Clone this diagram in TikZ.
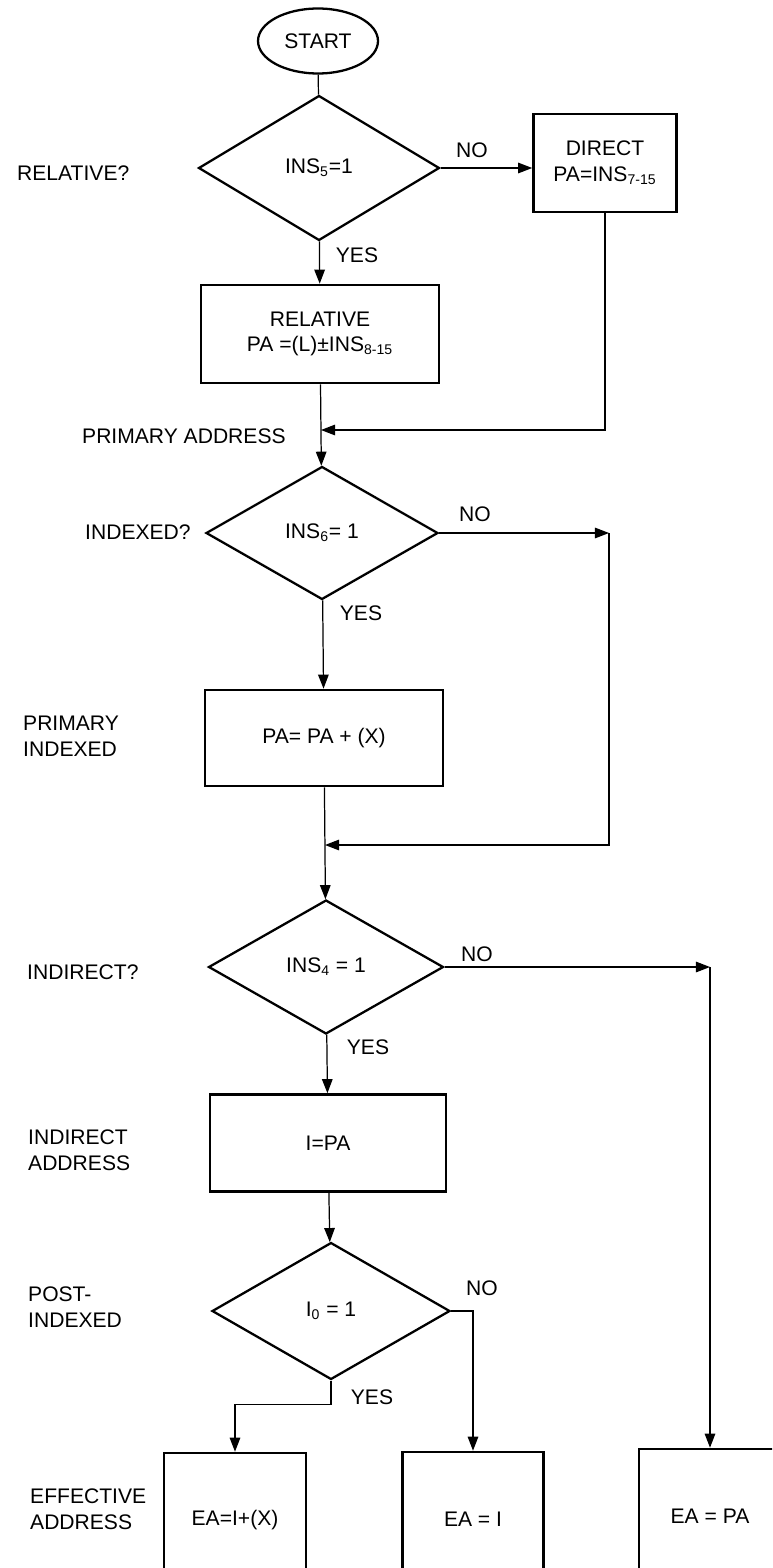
\documentclass[tikz,border=0pt]{standalone}
\usepackage{fontspec}
\setmainfont{Liberation Sans}
\usetikzlibrary{shapes.geometric,arrows.meta}

\begin{document}
\begin{tikzpicture}[x=0.02cm, y=-0.02cm,
    font=\fontsize{12}{14.5}\selectfont,
    >={Triangle[length=8pt,width=6pt]},
    decision/.style={diamond, draw, line width=1.3pt, inner sep=0pt, aspect=1.7},
    stepbox/.style={rectangle, draw, line width=1.5pt, align=center},
    link/.style={->, line width=0.7pt},
    side/.style={anchor=west, align=left}]

    \useasboundingbox (0,0) rectangle (772,1568);
    \clip (0,0) rectangle (772,1568);

    % main column
    \node [ellipse, draw, line width=1.3pt, minimum width=2.4cm, minimum height=1.3cm] (start) at (318,41) {START};
    \node [decision, minimum width=4.82cm, minimum height=2.9cm] (ins5) at (319,168) {INS\textsubscript{5}=1};
    \node [stepbox, minimum width=2.86cm, minimum height=1.96cm] (direct) at (605,163) {DIRECT\\PA=INS\textsubscript{7-15}};
    \node [stepbox, minimum width=4.76cm, minimum height=1.96cm] (relative) at (320,334) {RELATIVE\\PA =(L)±INS\textsubscript{8-15}};
    \node [decision, minimum width=4.64cm, minimum height=2.66cm] (ins6) at (322,533) {INS\textsubscript{6}= 1};
    \node [stepbox, minimum width=4.76cm, minimum height=1.92cm] (primary) at (324,738) {PA= PA + (X)};
    \node [decision, minimum width=4.7cm, minimum height=2.68cm] (ins4) at (326,967) {INS\textsubscript{4} = 1};
    \node [stepbox, minimum width=4.72cm, minimum height=1.94cm] (indirect) at (328,1143) {I=PA};
    \node [decision, minimum width=4.76cm, minimum height=2.74cm] (i0) at (331,1311) {I\textsubscript{0} = 1};

    % effective address boxes
    \node [stepbox, minimum width=2.84cm, minimum height=2.68cm] (ea1) at (235,1520) {EA=I+(X)};
    \node [stepbox, minimum width=2.82cm, minimum height=2.68cm] (ea2) at (473,1519) {EA = I};
    \node [stepbox, minimum width=2.84cm, minimum height=2.68cm] (ea3) at (710,1516) {EA = PA};

    % side labels
    \node [side] (qrel) at (11,173) {RELATIVE?};
    \node [side] (qpa) at (76,436) {PRIMARY ADDRESS};
    \node [side] (qidx) at (79,532) {INDEXED?};
    \node [side] (qpidx) at (17,736) {PRIMARY\\INDEXED};
    \node [side] (qind) at (21,972) {INDIRECT?};
    \node [side] (qia) at (22,1150) {INDIRECT\\ADDRESS};
    \node [side] (qpost) at (22,1307) {POST-\\INDEXED};
    \node [side] (qea) at (24,1509) {EFFECTIVE\\ADDRESS};

    % yes / no
    \node (no1) at (472,150) {NO};
    \node (yes1) at (357,255) {YES};
    \node (no2) at (475,514) {NO};
    \node (yes2) at (361,613) {YES};
    \node (no3) at (477,954) {NO};
    \node (yes3) at (368,1047) {YES};
    \node (no4) at (482,1288) {NO};
    \node (yes4) at (372,1397) {YES};

    \coordinate (m1) at (321,430);
    \coordinate (c2) at (609,533);
    \coordinate (m2) at (325,845);
    \coordinate (c3) at (710,967);

    \draw [line width=0.7pt] (start) -- (ins5);
    \draw [link] (ins5) -- (relative);
    \draw [link] (ins5.east) -- (ins5.east -| direct.west);
    \draw [link] (relative) -- (ins6);
    \draw [link] (direct.south) |- (m1);
    \draw [link] (ins6) -- (primary);
    \draw [link] (ins6.east) -- (c2);
    \draw [link] (c2) |- (m2);
    \draw [link] (primary) -- (ins4);
    \draw [link] (ins4) -- (indirect);
    \draw [link] (ins4.east) -- (c3);
    \draw [link] (c3) -- (ea3.north);
    \draw [link] (indirect) -- (i0);
    \draw [link] (i0.south) -- ++(0,24) -| (ea1.north);
    \draw [link] (i0.east) -| (ea2.north);

\end{tikzpicture}
\end{document}
